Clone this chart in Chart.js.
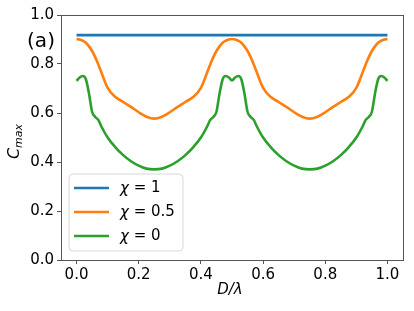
<!DOCTYPE html>
<html>
<head>
<meta charset="utf-8">
<script src="https://cdn.jsdelivr.net/npm/chart.js@4/dist/chart.umd.min.js"></script>
<style>
  html, body { margin: 0; padding: 0; background: #fff; }
  #box { width: 414px; height: 311px; }
</style>
</head>
<body>
<div id="box"><canvas id="myChart" width="414" height="311"></canvas></div>
<script>
// data
const dLambda = [0, 0.01, 0.02, 0.03, 0.04, 0.05, 0.06, 0.07, 0.08, 0.1, 0.125, 0.15, 0.175, 0.2, 0.225, 0.25,
  0.275, 0.3, 0.325, 0.35, 0.375, 0.4, 0.42, 0.43, 0.44, 0.45, 0.46, 0.47, 0.48, 0.49, 0.5,
  0.51, 0.52, 0.53, 0.54, 0.55, 0.56, 0.57, 0.58, 0.6, 0.625, 0.65, 0.675, 0.7, 0.725, 0.75,
  0.775, 0.8, 0.825, 0.85, 0.875, 0.9, 0.92, 0.93, 0.94, 0.95, 0.96, 0.97, 0.98, 0.99, 1.0];

const blueX = [0, 1];
const chi1 = [0.918, 0.918];

const chi05 = [0.902, 0.900, 0.895, 0.887, 0.872, 0.853, 0.828, 0.798, 0.765, 0.703, 0.665, 0.645, 0.625, 0.603, 0.585, 0.577,
  0.585, 0.603, 0.625, 0.645, 0.665, 0.703, 0.765, 0.798, 0.828, 0.853, 0.872, 0.887, 0.895, 0.900, 0.902,
  0.900, 0.895, 0.887, 0.872, 0.853, 0.828, 0.798, 0.765, 0.703, 0.665, 0.645, 0.625, 0.603, 0.585, 0.577,
  0.585, 0.603, 0.625, 0.645, 0.665, 0.703, 0.765, 0.798, 0.828, 0.853, 0.872, 0.887, 0.895, 0.900, 0.902];

const chi0 = [0.731, 0.745, 0.751, 0.738, 0.680, 0.605, 0.584, 0.572, 0.545, 0.500, 0.460, 0.428, 0.403, 0.385, 0.373, 0.370,
  0.373, 0.385, 0.403, 0.428, 0.460, 0.500, 0.545, 0.572, 0.584, 0.605, 0.680, 0.738, 0.751, 0.745, 0.733,
  0.745, 0.751, 0.738, 0.680, 0.605, 0.584, 0.572, 0.545, 0.500, 0.460, 0.428, 0.403, 0.385, 0.373, 0.370,
  0.373, 0.385, 0.403, 0.428, 0.460, 0.500, 0.545, 0.572, 0.584, 0.605, 0.680, 0.738, 0.751, 0.745, 0.731];

const labels = ["1", "0.5", "0"];
const colors = ["#1f77b4", "#ff7f0e", "#2ca02c"];
const yTicks = [0, 0.2, 0.4, 0.6, 0.8, 1.0];
const xTicks = [0, 0.2, 0.4, 0.6, 0.8, 1.0];

const FONT = "'DejaVu Sans', sans-serif";

function pts(xs, ys) {
  return xs.map((x, i) => ({ x: x, y: ys[i] }));
}

// frame, axis titles, "(a)" and the legend box
const extras = {
  id: "extras",
  afterDraw(chart) {
    const ctx = chart.ctx;
    const a = chart.chartArea;
    ctx.save();
    ctx.strokeStyle = "#555";
    ctx.lineWidth = 1;
    ctx.strokeRect(Math.round(a.left) + 0.5, Math.round(a.top) + 0.5, Math.round(a.right - a.left), Math.round(a.bottom - a.top));

    ctx.fillStyle = "#000";
    ctx.textBaseline = "middle";
    ctx.textAlign = "center";
    ctx.font = "20px " + FONT;
    ctx.fillText("(a)", 41, 42);

    // x title D/λ
    ctx.font = "italic 15px " + FONT;
    ctx.fillText("D/λ", (a.left + a.right) / 2 - 2, 290);

    // y title C_max
    ctx.save();
    ctx.translate(15, (a.top + a.bottom) / 2 + 4);
    ctx.rotate(-Math.PI / 2);
    ctx.textAlign = "left";
    ctx.font = "italic 16px " + FONT;
    const cw = ctx.measureText("C").width;
    ctx.font = "italic 11px " + FONT;
    const sw = ctx.measureText("max").width;
    const x0 = -(cw + sw) / 2;
    ctx.font = "italic 16px " + FONT;
    ctx.fillText("C", x0, 0);
    ctx.font = "italic 11px " + FONT;
    ctx.fillText("max", x0 + cw, 4);
    ctx.restore();

    // legend
    const lx = 69, ly = 174, lw = 114, lh = 77, r = 4;
    ctx.beginPath();
    ctx.moveTo(lx + r, ly);
    ctx.arcTo(lx + lw, ly, lx + lw, ly + lh, r);
    ctx.arcTo(lx + lw, ly + lh, lx, ly + lh, r);
    ctx.arcTo(lx, ly + lh, lx, ly, r);
    ctx.arcTo(lx, ly, lx + lw, ly, r);
    ctx.closePath();
    ctx.fillStyle = "rgba(255,255,255,0.8)";
    ctx.fill();
    ctx.strokeStyle = "#d8d8d8";
    ctx.stroke();

    chart.data.datasets.forEach((ds, i) => {
      const y = 188 + i * 24;
      ctx.strokeStyle = ds.borderColor;
      ctx.lineWidth = 2.6;
      ctx.beginPath();
      ctx.moveTo(74, y);
      ctx.lineTo(109, y);
      ctx.stroke();
      ctx.fillStyle = "#000";
      ctx.textAlign = "left";
      ctx.font = "italic 15px " + FONT;
      ctx.fillText("χ", 120, y + 1);
      const w = ctx.measureText("χ").width;
      ctx.font = "15px " + FONT;
      ctx.fillText(" = " + labels[i], 120 + w, y);
    });
    ctx.restore();
  }
};

const ctx = document.getElementById("myChart");

new Chart(ctx, {
  type: "line",
  data: {
    datasets: [
      { label: "χ = " + labels[0], data: pts(blueX, chi1), borderColor: colors[0] },
      { label: "χ = " + labels[1], data: pts(dLambda, chi05), borderColor: colors[1] },
      { label: "χ = " + labels[2], data: pts(dLambda, chi0), borderColor: colors[2] }
    ]
  },
  options: {
    responsive: false,
    animation: false,
    layout: { padding: { top: 15, right: 11, left: 0, bottom: 0 } },
    elements: {
      point: { radius: 0 },
      line: { borderWidth: 2.6, cubicInterpolationMode: "monotone", fill: false }
    },
    plugins: {
      legend: { display: false },
      tooltip: { enabled: false }
    },
    scales: {
      x: {
        type: "linear",
        min: -0.05,
        max: 1.05,
        afterFit: s => { s.height = 51; },
        afterBuildTicks: s => { s.ticks = xTicks.map(v => ({ value: v })); },
        grid: { drawOnChartArea: false, drawTicks: true, tickLength: 4, color: "#555" },
        border: { display: false },
        ticks: { color: "#000", padding: 2, maxRotation: 0, font: { family: FONT, size: 15 }, callback: v => v.toFixed(1) }
      },
      y: {
        min: 0,
        max: 1,
        afterFit: s => { s.width = 61; },
        afterBuildTicks: s => { s.ticks = yTicks.map(v => ({ value: v })); },
        grid: { drawOnChartArea: false, drawTicks: true, tickLength: 4, color: "#555" },
        border: { display: false },
        ticks: { color: "#000", padding: 3, font: { family: FONT, size: 15 }, callback: v => v.toFixed(1) }
      }
    }
  },
  plugins: [extras]
});
</script>
</body>
</html>
